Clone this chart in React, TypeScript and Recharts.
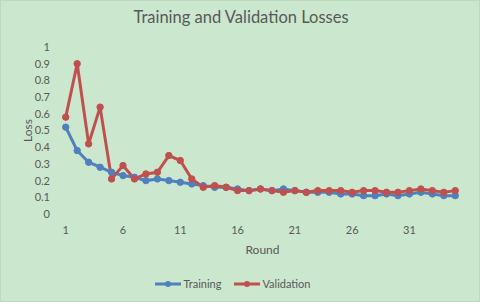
import React from "react";
import { LineChart, Line, XAxis, YAxis, Legend } from "recharts";

const rounds = [1,2,3,4,5,6,7,8,9,10,11,12,13,14,15,16,17,18,19,20,21,22,23,24,25,26,27,28,29,30,31,32,33,34,35];
const training = [0.52,0.38,0.31,0.28,0.25,0.23,0.22,0.2,0.21,0.2,0.19,0.18,0.17,0.16,0.16,0.15,0.14,0.15,0.14,0.15,0.14,0.13,0.13,0.13,0.12,0.12,0.11,0.11,0.12,0.11,0.12,0.13,0.12,0.11,0.11];
const validation = [0.58,0.9,0.42,0.64,0.21,0.29,0.21,0.24,0.25,0.35,0.32,0.21,0.16,0.17,0.16,0.14,0.14,0.15,0.14,0.13,0.14,0.13,0.14,0.14,0.14,0.13,0.14,0.14,0.13,0.13,0.14,0.15,0.14,0.13,0.14];
const xTicks = [1, 6, 11, 16, 21, 26, 31];
const yTicks = [0, 0.1, 0.2, 0.3, 0.4, 0.5, 0.6, 0.7, 0.8, 0.9, 1];

const data = rounds.map((r, i) => ({ round: r, Training: training[i], Validation: validation[i] }));

const BG = "#cbe7ce";
const TXT = "#595959";
const BLUE = "#4f81bd";
const RED = "#c0504d";
const FONT = "Lato, 'Open Sans', sans-serif";

const LegendContent = () => (
  <div style={{ height: 30, boxSizing: "border-box", paddingTop: 5, display: "flex", justifyContent: "center", alignItems: "flex-start", fontFamily: FONT, fontSize: 11, color: TXT, paddingLeft: 4 }}>
    {[{ n: "Training", c: BLUE }, { n: "Validation", c: RED }].map((it) => (
      <div key={it.n} style={{ display: "flex", alignItems: "center", margin: "0 6px" }}>
        <svg width={28} height={10} style={{ marginRight: 1 }}>
          <line x1={1} y1={5} x2={27} y2={5} stroke={it.c} strokeWidth={3} />
          <circle cx={14} cy={5} r={3} fill={it.c} />
        </svg>
        <span>{it.n}</span>
      </div>
    ))}
  </div>
);

const LossLabel = (props: any) => {
  const vb = props.viewBox || { y: 47, height: 167 };
  const cx = 27;
  const cy = vb.y + vb.height / 2;
  return (
    <text x={cx} y={cy} transform={`rotate(-90 ${cx} ${cy})`} textAnchor="middle" dominantBaseline="central" fill={TXT} fontSize={12} fontFamily={FONT}>
      Loss
    </text>
  );
};

export default function App() {
  return (
    <div style={{ position: "fixed", left: 0, top: 0, width: 480, height: 302, background: BG, boxSizing: "border-box", border: "1px solid #bcd9c0" }}>
      <div style={{ position: "absolute", left: 0, top: 6, width: 480, textAlign: "center", fontFamily: FONT, fontSize: 16.5, color: TXT }}>
        Training and Validation Losses
      </div>
      <div style={{ position: "absolute", left: -1, top: -1 }}>
        <LineChart width={480} height={302} data={data} margin={{ top: 47, right: 19, bottom: 0, left: 0 }}>
          <XAxis
            dataKey="round"
            type="number"
            domain={[0.5, 35.5]}
            ticks={xTicks}
            interval={0}
            axisLine={false}
            tickLine={false}
            tickSize={0}
            tickMargin={12}
            height={58}
            tick={{ fill: TXT, fontSize: 11, fontFamily: FONT }}
            label={{ value: "Round", position: "insideBottom", offset: 18, fill: TXT, fontSize: 12, fontFamily: FONT, dx: 2 }}
          />
          <YAxis
            domain={[0, 1]}
            ticks={yTicks}
            interval={0}
            axisLine={false}
            tickLine={false}
            tickSize={0}
            tickMargin={10}
            width={60}
            tick={{ fill: TXT, fontSize: 11, fontFamily: FONT }}
            label={<LossLabel />}
          />
          <Legend verticalAlign="bottom" content={LegendContent} />
          <Line dataKey="Training" stroke={BLUE} strokeWidth={3} dot={{ r: 3.2, fill: BLUE, stroke: BLUE, strokeWidth: 1 }} isAnimationActive={false} />
          <Line dataKey="Validation" stroke={RED} strokeWidth={3} dot={{ r: 3.2, fill: RED, stroke: RED, strokeWidth: 1 }} isAnimationActive={false} />
        </LineChart>
      </div>
    </div>
  );
}
